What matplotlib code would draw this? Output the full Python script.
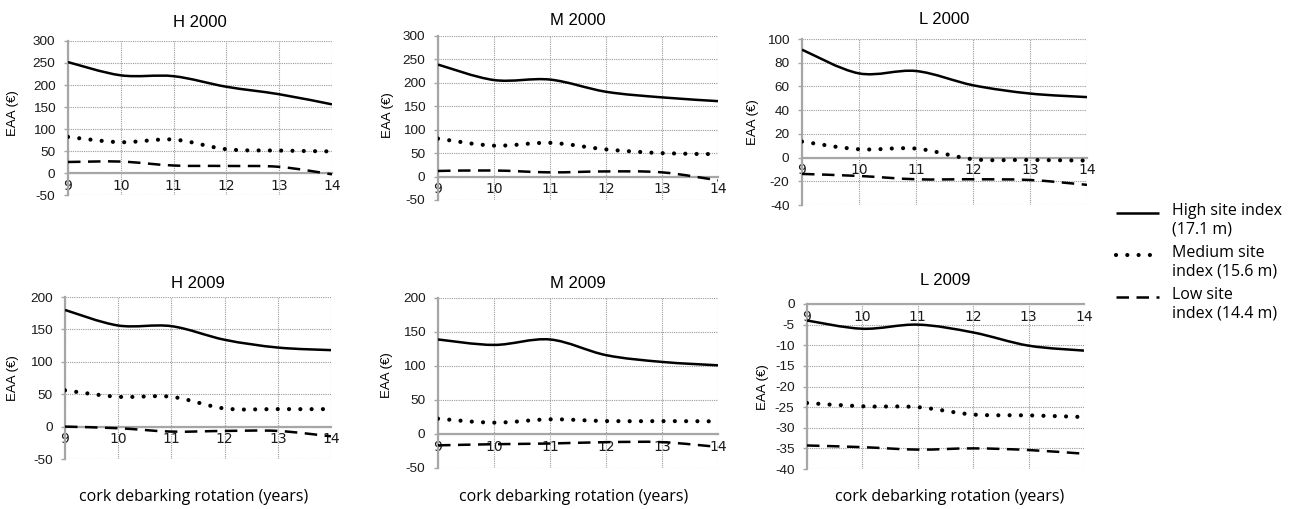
import numpy as np
import matplotlib
matplotlib.use('Agg')
import matplotlib.pyplot as plt
from matplotlib.path import Path
from matplotlib.patches import PathPatch
from matplotlib.lines import Line2D

rotation = [9, 10, 11, 12, 13, 14]

panels = ['H 2000', 'M 2000', 'L 2000', 'H 2009', 'M 2009', 'L 2009']

high = {
    'H 2000': [252, 222, 220, 196, 179, 156],
    'M 2000': [239, 206, 207, 181, 169, 161],
    'L 2000': [91, 71, 73, 61, 54, 51],
    'H 2009': [180, 156, 155, 134, 122, 118],
    'M 2009': [139, 131, 139, 116, 106, 101],
    'L 2009': [-4.0, -6.0, -5.0, -6.9, -10.1, -11.3],
}
medium = {
    'H 2000': [82, 70, 76, 54, 51, 49],
    'M 2000': [81, 66, 72, 58, 50, 48],
    'L 2000': [13.5, 7, 7.6, -1.4, -2, -2.5],
    'H 2009': [56, 46, 46, 28, 27, 27],
    'M 2009': [22.5, 16.7, 21.6, 19, 19, 18.6],
    'L 2009': [-24.0, -24.8, -25.0, -26.8, -27.0, -27.4],
}
low = {
    'H 2000': [25, 26, 17, 16, 14, -3],
    'M 2000': [12, 13, 9, 11, 9, -8],
    'L 2000': [-13.8, -15.5, -18.3, -18.3, -18.9, -23],
    'H 2009': [0, -2.5, -7.7, -6.7, -6.7, -15],
    'M 2009': [-16.7, -15, -14, -12, -12, -19],
    'L 2009': [-34.3, -34.7, -35.3, -35.0, -35.4, -36.3],
}

y_ticks = {
    'H 2000': np.arange(-50, 301, 50),
    'M 2000': np.arange(-50, 301, 50),
    'L 2000': np.arange(-40, 101, 20),
    'H 2009': np.arange(-50, 201, 50),
    'M 2009': np.arange(-50, 201, 50),
    'L 2009': np.arange(-40, 1, 5),
}

legend_labels = ['High site index\n(17.1 m)',
                 'Medium site\nindex (15.6 m)',
                 'Low site\nindex (14.4 m)']

# axes boxes in pixels: left, top, right, bottom
W, H = 1296, 509
boxes = {
    'H 2000': (68, 41, 332, 195),
    'M 2000': (438, 36, 718, 200),
    'L 2000': (802, 39, 1087, 205),
    'H 2009': (65, 297, 331, 459),
    'M 2009': (438, 298, 718, 468),
    'L 2009': (807, 304, 1084, 469),
}
# y label centre, in pixels
ylabel_px = {
    'H 2000': (13, 113),
    'M 2000': (388, 115),
    'L 2000': (753, 122),
    'H 2009': (13, 378),
    'M 2009': (387, 375),
    'L 2009': (763, 387),
}
title_pad = {'H 2000': 14, 'M 2000': 11, 'L 2000': 15,
             'H 2009': 9, 'M 2009': 10, 'L 2009': 19}

styles = [
    dict(linestyle='solid', linewidth=1.8, capstyle='butt'),
    dict(linestyle=(0, (0.01, 2.7)), linewidth=3.0, capstyle='round'),
    dict(linestyle=(0, (5.0, 3.0)), linewidth=1.8, capstyle='butt'),
]

tick_font = 'Liberation Sans'
label_font = 'Open Sans'
grey = '#a6a6a6'


def smooth_path(x, y):
    # Catmull-Rom style bezier, like a spreadsheet "smoothed line"
    pts = np.column_stack([x, y]).astype(float)
    ext = np.vstack([pts[0], pts, pts[-1]])
    verts = [pts[0]]
    codes = [Path.MOVETO]
    for i in range(len(pts) - 1):
        p0, p1, p2, p3 = ext[i], ext[i + 1], ext[i + 2], ext[i + 3]
        verts += [p1 + (p2 - p0) / 6, p2 - (p3 - p1) / 6, p2]
        codes += [Path.CURVE4] * 3
    return Path(verts, codes)


fig = plt.figure(figsize=(W / 100, H / 100), dpi=100)

for name in panels:
    l, t, r, b = boxes[name]
    ax = fig.add_axes([l / W, 1 - b / H, (r - l) / W, (b - t) / H])
    yt = y_ticks[name]
    ax.set_xlim(9, 14)
    ax.set_ylim(yt[0], yt[-1])
    ax.set_xticks(rotation)
    ax.set_yticks(yt)
    ax.set_yticklabels([f'{v:g}' for v in yt], fontfamily=tick_font, fontsize=9.7)
    ax.set_xticklabels([str(v) for v in rotation], fontfamily=tick_font, fontsize=9.7)
    ax.grid(True, linestyle=(0, (1, 1)), color='#9a9a9a', linewidth=0.8)
    ax.set_axisbelow(True)
    for s in ['top', 'right']:
        ax.spines[s].set_visible(False)
    ax.spines['bottom'].set_position(('data', 0))
    ax.spines['bottom'].set_color(grey)
    ax.spines['bottom'].set_linewidth(1.6)
    ax.spines['left'].set_color(grey)
    ax.spines['left'].set_linewidth(1.6)
    ax.tick_params(axis='x', length=0, pad=4, labelcolor='#1a1a1a')
    ax.tick_params(axis='y', length=3, width=1, color=grey, pad=6, labelcolor='#1a1a1a')

    for series, st in zip([high, medium, low], styles):
        patch = PathPatch(smooth_path(rotation, series[name]), facecolor='none',
                          edgecolor='black', zorder=3, **st)
        ax.add_patch(patch)

    ax.text(0.5, 1 + title_pad[name] / (b - t), name, transform=ax.transAxes,
            ha='center', va='baseline', fontfamily=tick_font, fontsize=12)
    lx, ly = ylabel_px[name]
    fig.text(lx / W, 1 - ly / H, 'EAA (€)', rotation=90, ha='center', va='center',
             fontfamily=tick_font, fontsize=9.5)

for cx in [194, 574, 950]:
    fig.text(cx / W, 1 - 497 / H, 'cork debarking rotation (years)', ha='center',
             va='center', fontfamily=label_font, fontsize=11.5)

# legend drawn by hand so each sample sits on the first line of its label
for i, (lab, st) in enumerate(zip(legend_labels, styles)):
    yy = 1 - (213 + 42 * i) / H
    ln = Line2D([1116 / W, 1159 / W], [yy, yy], transform=fig.transFigure,
                color='black', linestyle=st['linestyle'], linewidth=st['linewidth'],
                dash_capstyle=st['capstyle'], solid_capstyle='butt')
    fig.add_artist(ln)
    fig.text(1172 / W, yy + 10 / H, lab, ha='left', va='top', fontfamily=label_font,
             fontsize=11.5, linespacing=1.2)

fig.savefig('out.png', dpi=100)
